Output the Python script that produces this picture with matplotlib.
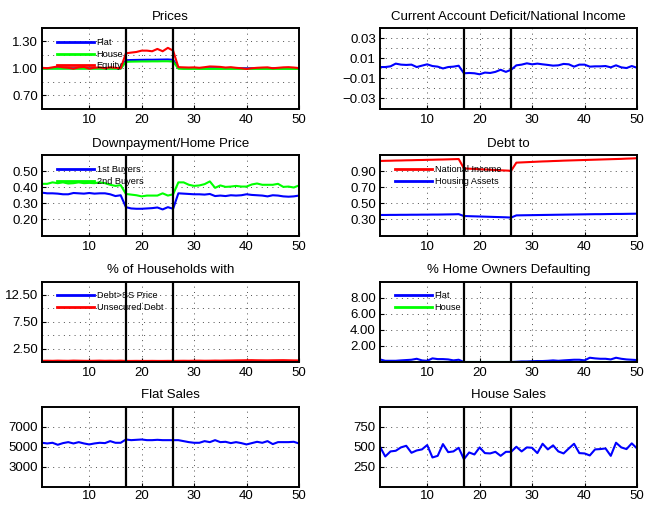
import matplotlib
matplotlib.use("Agg")
import matplotlib.pyplot as plt
from matplotlib.ticker import FixedLocator

plt.rcParams['font.family'] = ['Liberation Sans', 'DejaVu Sans']

t = list(range(1, 51))
crisis_lines = [17, 26]

# ---- Prices ----
price_flat = [1.00, 1.00, 1.00, 1.00, 1.00, 1.00, 1.00, 1.00, 1.00, 1.00,
              1.00, 1.00, 1.00, 1.00, 1.00, 1.00, 1.090, 1.092, 1.093, 1.094,
              1.095, 1.095, 1.096, 1.097, 1.098, 1.094, 1.005, 1.00, 1.00, 1.00,
              1.00, 1.00, 1.00, 1.00, 1.00, 1.00, 1.00, 1.00, 1.00, 1.00,
              1.00, 1.00, 1.00, 1.00, 1.00, 1.00, 1.00, 1.00, 1.00, 1.00]
price_house = [0.995, 0.995, 0.995, 0.995, 0.995, 0.995, 0.995, 0.995, 0.995, 0.995,
               0.995, 0.995, 0.995, 0.995, 0.995, 0.995, 1.072, 1.074, 1.075, 1.076,
               1.076, 1.077, 1.077, 1.078, 1.078, 1.075, 0.995, 0.993, 0.993, 0.993,
               0.993, 0.993, 0.993, 0.993, 0.993, 0.993, 0.993, 0.993, 0.993, 0.993,
               0.993, 0.993, 0.993, 0.993, 0.993, 0.993, 0.993, 0.993, 0.993, 0.993]
price_equity = [1.005, 1.000, 1.010, 1.020, 1.010, 1.005, 0.995, 1.010, 1.015, 0.995,
                1.005, 1.010, 1.000, 1.010, 1.005, 1.000, 1.167, 1.175, 1.182, 1.197,
                1.197, 1.190, 1.216, 1.190, 1.228, 1.197, 1.012, 1.010, 1.008, 1.010,
                1.005, 1.012, 1.020, 1.018, 1.015, 1.008, 1.012, 1.005, 1.000, 0.992,
                1.000, 1.005, 1.008, 1.010, 1.000, 1.005, 1.010, 1.012, 1.008, 1.002]

# ---- Current account deficit / national income ----
ca_deficit = [0.0012, 0.0012, 0.0019, 0.0046, 0.0036, 0.0033, 0.0036, 0.0012, 0.0026, 0.0039,
              0.0022, 0.0016, -0.0002, 0.0012, 0.0016, 0.0025, -0.0050, -0.0047, -0.0050, -0.0060,
              -0.0043, -0.0047, -0.0036, -0.0015, -0.0036, -0.0015, 0.0029, 0.0036, 0.0049, 0.0039,
              0.0046, 0.0039, 0.0033, 0.0026, 0.0029, 0.0043, 0.0039, 0.0016, 0.0036, 0.0036,
              0.0016, 0.0019, 0.0019, 0.0022, 0.0009, 0.0029, 0.0009, 0.0002, 0.0022, 0.0005]

# ---- Downpayment / home price ----
dp_first = [0.366, 0.362, 0.362, 0.360, 0.356, 0.356, 0.364, 0.362, 0.360, 0.364,
            0.360, 0.362, 0.362, 0.356, 0.345, 0.350, 0.276, 0.268, 0.266, 0.266,
            0.268, 0.270, 0.274, 0.262, 0.276, 0.266, 0.362, 0.360, 0.358, 0.356,
            0.356, 0.354, 0.358, 0.345, 0.348, 0.345, 0.350, 0.348, 0.350, 0.356,
            0.352, 0.350, 0.348, 0.343, 0.350, 0.348, 0.343, 0.341, 0.343, 0.348]
dp_second = [0.421, 0.421, 0.430, 0.425, 0.430, 0.423, 0.425, 0.430, 0.425, 0.427,
             0.425, 0.430, 0.425, 0.415, 0.408, 0.413, 0.358, 0.354, 0.350, 0.343,
             0.348, 0.348, 0.348, 0.362, 0.348, 0.356, 0.430, 0.430, 0.415, 0.408,
             0.411, 0.419, 0.436, 0.396, 0.411, 0.402, 0.404, 0.408, 0.404, 0.404,
             0.417, 0.423, 0.415, 0.415, 0.415, 0.421, 0.402, 0.404, 0.398, 0.411]

# ---- Debt to ----
debt_income = [1.026, 1.028, 1.029, 1.031, 1.032, 1.034, 1.035, 1.037, 1.038, 1.040,
               1.041, 1.043, 1.044, 1.046, 1.048, 1.050, 0.934, 0.930, 0.927, 0.923,
               0.920, 0.917, 0.913, 0.910, 0.907, 0.904, 1.005, 1.008, 1.011, 1.014,
               1.017, 1.020, 1.022, 1.025, 1.027, 1.030, 1.032, 1.034, 1.036, 1.038,
               1.040, 1.042, 1.044, 1.046, 1.048, 1.050, 1.052, 1.055, 1.057, 1.060]
debt_housing = [0.355, 0.355, 0.356, 0.356, 0.357, 0.357, 0.358, 0.358, 0.359, 0.359,
                0.360, 0.360, 0.361, 0.362, 0.363, 0.365, 0.342, 0.340, 0.338, 0.336,
                0.334, 0.332, 0.330, 0.328, 0.326, 0.323, 0.350, 0.351, 0.352, 0.353,
                0.354, 0.355, 0.356, 0.357, 0.358, 0.359, 0.360, 0.361, 0.362, 0.363,
                0.364, 0.365, 0.365, 0.366, 0.367, 0.368, 0.368, 0.369, 0.370, 0.371]

# ---- % of households with ----
hh_debt_ss = [0.05, 0.05, 0.05, 0.05, 0.05, 0.05, 0.05, 0.05, 0.05, 0.05,
              0.05, 0.05, 0.05, 0.05, 0.05, 0.05, 0.02, 0.02, 0.02, 0.02,
              0.02, 0.02, 0.02, 0.02, 0.02, 0.02, 0.04, 0.04, 0.04, 0.05,
              0.05, 0.05, 0.05, 0.05, 0.05, 0.05, 0.06, 0.06, 0.06, 0.08,
              0.08, 0.07, 0.07, 0.07, 0.06, 0.07, 0.07, 0.06, 0.06, 0.06]
hh_unsecured = [0.22, 0.24, 0.22, 0.25, 0.23, 0.22, 0.26, 0.24, 0.22, 0.21,
                0.23, 0.25, 0.22, 0.24, 0.22, 0.25, 0.20, 0.20, 0.21, 0.20,
                0.20, 0.21, 0.20, 0.20, 0.21, 0.20, 0.22, 0.23, 0.22, 0.24,
                0.25, 0.23, 0.24, 0.26, 0.25, 0.27, 0.28, 0.30, 0.31, 0.33,
                0.34, 0.32, 0.31, 0.30, 0.32, 0.33, 0.34, 0.32, 0.30, 0.29]

# ---- % home owners defaulting ----
def_flat = [0.32, 0.15, 0.15, 0.15, 0.20, 0.24, 0.28, 0.40, 0.20, 0.15,
            0.45, 0.36, 0.36, 0.32, 0.20, 0.28, 0.00, 0.00, 0.00, 0.00,
            0.00, 0.00, 0.00, 0.00, 0.00, 0.00, 0.03, 0.07, 0.07, 0.10,
            0.12, 0.12, 0.15, 0.20, 0.15, 0.20, 0.24, 0.28, 0.28, 0.20,
            0.53, 0.45, 0.40, 0.40, 0.32, 0.53, 0.40, 0.32, 0.28, 0.24]
def_house = [0.0] * 50

# ---- Sales ----
flat_sales = [5394, 5328, 5394, 5197, 5361, 5459, 5328, 5459, 5328, 5230,
              5328, 5394, 5361, 5558, 5394, 5394, 5721, 5656, 5689, 5721,
              5656, 5656, 5689, 5656, 5656, 5656, 5656, 5558, 5459, 5394,
              5394, 5558, 5459, 5656, 5459, 5492, 5361, 5459, 5361, 5230,
              5361, 5492, 5394, 5558, 5262, 5459, 5459, 5459, 5492, 5328]
house_sales = [500, 379, 442, 450, 492, 512, 425, 454, 467, 521,
               367, 387, 533, 433, 442, 487, 346, 429, 404, 492,
               421, 417, 437, 387, 437, 437, 500, 442, 492, 487,
               421, 537, 467, 517, 442, 417, 479, 537, 421, 417,
               392, 467, 471, 479, 387, 550, 492, 471, 542, 479]

# ---- axis definitions ----
titles = ["Prices", "Current Account Deficit/National Income",
          "Downpayment/Home Price", "Debt to",
          "% of Households with", "% Home Owners Defaulting",
          "Flat Sales", "House Sales"]

panels = [
    dict(series=[(price_flat, "Flat", "#0000ff"), (price_house, "House", "#00ff00"),
                 (price_equity, "Equity", "#ff0000")],
         ylim=(0.55, 1.45), labeled=[0.70, 1.00, 1.30], labels=["0.70", "1.00", "1.30"],
         grid=[0.70, 0.85, 1.00, 1.15, 1.30], legend=True),
    dict(series=[(ca_deficit, None, "#0000ff")],
         ylim=(-0.04, 0.04), labeled=[-0.03, -0.01, 0.01, 0.03],
         labels=["\u22120.03", "\u22120.01", "0.01", "0.03"],
         grid=[-0.03, -0.02, -0.01, 0.0, 0.01, 0.02, 0.03], legend=False),
    dict(series=[(dp_first, "1st Buyers", "#0000ff"), (dp_second, "2nd Buyers", "#00ff00")],
         ylim=(0.10, 0.60), labeled=[0.20, 0.30, 0.40, 0.50],
         labels=["0.20", "0.30", "0.40", "0.50"], grid=[0.2, 0.3, 0.4, 0.5], legend=True),
    dict(series=[(debt_income, "National Income", "#ff0000"),
                 (debt_housing, "Housing Assets", "#0000ff")],
         ylim=(0.10, 1.10), labeled=[0.30, 0.50, 0.70, 0.90],
         labels=["0.30", "0.50", "0.70", "0.90"], grid=[0.3, 0.5, 0.7, 0.9], legend=True),
    dict(series=[(hh_debt_ss, "Debt>SS Price", "#0000ff"),
                 (hh_unsecured, "Unsecured Debt", "#ff0000")],
         ylim=(0, 15), labeled=[2.5, 7.5, 12.5], labels=["2.50", "7.50", "12.50"],
         grid=[2.5, 5.0, 7.5, 10.0, 12.5], legend=True),
    dict(series=[(def_flat, "Flat", "#0000ff"), (def_house, "House", "#00ff00")],
         ylim=(0, 10), labeled=[2, 4, 6, 8], labels=["2.00", "4.00", "6.00", "8.00"],
         grid=[2, 4, 6, 8], legend=True),
    dict(series=[(flat_sales, None, "#0000ff")],
         ylim=(1000, 9000), labeled=[3000, 5000, 7000], labels=["3000", "5000", "7000"],
         grid=[3000, 5000, 7000], legend=False),
    dict(series=[(house_sales, None, "#0000ff")],
         ylim=(0, 1000), labeled=[250, 500, 750], labels=["250", "500", "750"],
         grid=[250, 500, 750], legend=False),
]

xticks = [10, 20, 30, 40, 50]

W, H = 646, 505
fig = plt.figure(figsize=(W / 100, H / 100), dpi=100)

col_left = [42, 380]
ax_w = 257
row_top = [28, 155, 281.5, 406.5]
ax_h = 80.5
x_pads = [4, 4, 3.5, 2]

for i, p in enumerate(panels):
    r, c = divmod(i, 2)
    x0 = col_left[c]
    y0 = row_top[r]
    ax = fig.add_axes([x0 / W, 1 - (y0 + ax_h) / H, ax_w / W, ax_h / H])
    for vals, lab, col in p["series"]:
        ax.plot(t, vals, color=col, lw=1.5, label=lab, zorder=3)
    for xv in crisis_lines:
        ax.axvline(xv, color="black", lw=1.6, zorder=4)
    ax.set_xlim(1, 50)
    ax.set_ylim(*p["ylim"])
    ax.set_xticks(xticks)
    ax.set_xticklabels([str(v) for v in xticks])
    ax.set_yticks(p["labeled"])
    ax.set_yticklabels(p["labels"])
    ax.yaxis.set_minor_locator(FixedLocator(p["grid"]))
    ax.tick_params(axis="both", which="major", direction="in", length=3,
                   labelsize=9.5, width=0.8)
    ax.tick_params(axis="y", which="minor", length=0)
    ax.tick_params(axis="x", pad=x_pads[r])
    ax.tick_params(axis="y", pad=3)
    for xv in xticks:
        ax.axvline(xv, color="0.3", lw=0.7, ls=(0, (1, 4.5)), zorder=1)
    for yv in p["grid"]:
        ax.axhline(yv, color="0.3", lw=0.7, ls=(0, (1, 4.5)), zorder=1)
    for s in ax.spines.values():
        s.set_linewidth(1.4)
        s.set_zorder(5)
    ax.set_title(titles[i], fontsize=9.5, pad=6)
    if p["legend"]:
        leg = ax.legend(loc="upper left", bbox_to_anchor=(15 / ax_w, 1 - 10 / ax_h),
                        frameon=False, fontsize=6.6, handlelength=4.0,
                        handletextpad=0.33, labelspacing=0.3, borderpad=0,
                        borderaxespad=0)
        for ln in leg.get_lines():
            ln.set_linewidth(2.0)
        leg.set_zorder(6)

fig.savefig("out.png", dpi=100)
